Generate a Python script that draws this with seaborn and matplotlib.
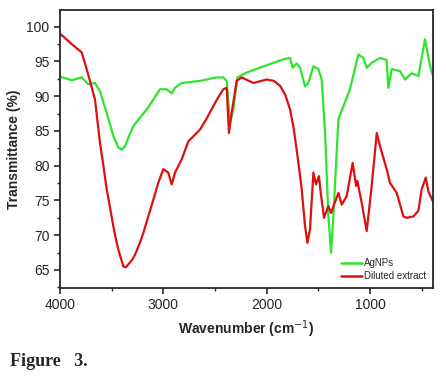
import numpy as np
import pandas as pd
import seaborn as sns
import matplotlib.pyplot as plt
from matplotlib.ticker import MultipleLocator

# AgNPs spectrum (wavenumber, transmittance)
agnp_wn = [4000, 3887, 3790, 3726, 3661, 3613, 3548, 3484, 3435, 3403, 3371, 3323,
           3290, 3226, 3161, 3097, 3032, 2968, 2919, 2887, 2823, 2645, 2484, 2419,
           2387, 2355, 2323, 2284, 2194, 2065, 1839, 1774, 1748, 1710, 1677, 1629,
           1597, 1548, 1500, 1468, 1435, 1403, 1377, 1355, 1306, 1194, 1113, 1065,
           1032, 984, 903, 839, 823, 790, 710, 661, 597, 532, 468, 419, 387]
agnp_t = [92.8, 92.3, 92.7, 91.7, 91.9, 90.7, 87.6, 84.3, 82.6, 82.3, 82.8, 84.6,
          85.7, 86.9, 88.1, 89.5, 91.0, 91.0, 90.4, 91.2, 91.9, 92.2, 92.7, 92.7,
          92.2, 86.2, 88.1, 92.7, 93.4, 94.1, 95.3, 95.5, 94.1, 94.7, 94.1, 91.4,
          91.9, 94.3, 93.9, 92.4, 84.7, 72.7, 67.5, 72.7, 86.7, 91.0, 96.0, 95.5,
          94.1, 94.8, 95.5, 95.2, 91.2, 93.9, 93.6, 92.4, 93.3, 92.9, 98.2, 94.3,
          92.7]

# Diluted extract spectrum
ext_wn = [4000, 3887, 3790, 3742, 3710, 3661, 3613, 3580, 3548, 3516, 3484, 3460,
          3435, 3387, 3360, 3339, 3300, 3274, 3230, 3194, 3150, 3097, 3050, 3000,
          2952, 2919, 2887, 2823, 2758, 2645, 2580, 2516, 2470, 2419, 2387, 2365,
          2339, 2290, 2242, 2129, 2000, 1930, 1871, 1820, 1774, 1740, 1710, 1685,
          1661, 1630, 1606, 1581, 1548, 1523, 1494, 1477, 1445, 1403, 1377, 1306,
          1274, 1226, 1168, 1135, 1123, 1081, 1032, 984, 935, 903, 839, 806, 742,
          677, 645, 581, 532, 500, 461, 435, 387]
ext_t = [99.0, 97.5, 96.3, 93.9, 92.2, 89.5, 83.3, 80.0, 76.6, 74.0, 71.3, 69.5,
         67.9, 65.5, 65.4, 65.8, 66.5, 67.2, 68.8, 70.3, 72.5, 75.1, 77.5, 79.5,
         79.0, 77.3, 79.0, 80.9, 83.5, 85.2, 86.8, 88.6, 89.8, 91.0, 91.2, 84.7,
         87.6, 92.2, 92.7, 91.9, 92.4, 92.2, 91.5, 90.2, 88.1, 85.5, 82.3, 79.5,
         76.6, 71.5, 68.9, 70.8, 79.0, 77.3, 78.5, 76.1, 72.5, 74.2, 73.2, 76.1,
         74.4, 75.6, 80.4, 77.1, 77.8, 74.7, 70.6, 77.1, 84.7, 82.8, 79.5, 77.5,
         76.1, 72.7, 72.5, 72.7, 73.5, 76.6, 78.3, 76.3, 74.7]

df = pd.concat([
    pd.DataFrame({'wn': agnp_wn, 'T': agnp_t, 'sample': 'AgNPs'}),
    pd.DataFrame({'wn': ext_wn, 'T': ext_t, 'sample': 'Diluted extract'}),
])

sns.set_style("ticks")
plt.rcParams['font.family'] = ['Liberation Sans', 'DejaVu Sans']

fig = plt.figure(figsize=(4.46, 3.77), dpi=100)
ax = fig.add_axes([0.1345, 0.236, 0.8365, 0.7375])
sns.lineplot(data=df, x='wn', y='T', hue='sample', sort=False, estimator=None,
             palette={'AgNPs': '#2ee52e', 'Diluted extract': '#dd1010'},
             linewidth=1.6, ax=ax)

ax.set_xlim(4000, 390)
ax.set_ylim(62.4, 102.4)
ax.xaxis.set_major_locator(MultipleLocator(1000))
ax.xaxis.set_minor_locator(MultipleLocator(500))
ax.yaxis.set_major_locator(MultipleLocator(5))
ax.yaxis.set_minor_locator(MultipleLocator(2.5))
ax.tick_params(axis='both', which='major', labelsize=10, length=4, width=1.2)
ax.tick_params(axis='both', which='minor', length=2.5, width=1.0)
for s in ax.spines.values():
    s.set_linewidth(1.3)

ax.set_xlabel('Wavenumber (cm$^{-1}$)', fontsize=10, fontweight='bold')
ax.set_ylabel('Transmittance (%)', fontsize=10, fontweight='bold')

leg = ax.legend(loc='lower right', frameon=False, fontsize=7, handlelength=2.2,
                handletextpad=0.2, labelspacing=0.3, borderaxespad=0.3)
for line in leg.get_lines():
    line.set_linewidth(1.8)

fig.text(0.022, 0.03, 'Figure   3.', fontsize=13, fontweight='bold',
         family=['Liberation Serif', 'DejaVu Serif'])

fig.savefig('out.png', dpi=100)
